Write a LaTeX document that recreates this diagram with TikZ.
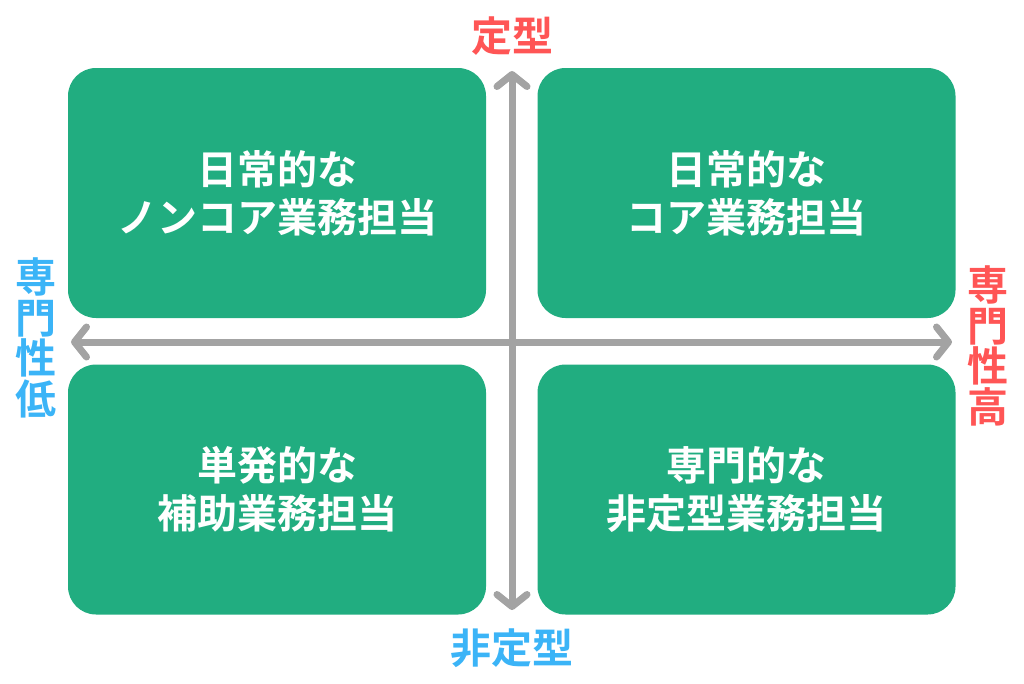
\documentclass[tikz,border=0pt]{standalone}
\usepackage{fontspec}
\newfontfamily\cjk{Noto Sans CJK JP}[BoldFont={Noto Sans CJK JP Bold}]
\usetikzlibrary{arrows.meta}
\definecolor{boxgreen}{RGB}{33,173,128}
\definecolor{axisgray}{RGB}{163,163,163}
\definecolor{lblred}{RGB}{255,85,85}
\definecolor{lblblue}{RGB}{59,180,247}
\tikzset{
  quad/.style={fill=boxgreen, rounded corners=28pt, minimum width=418pt, minimum height=250pt, inner sep=0pt, draw=none,
    text=white, font=\cjk\bfseries\fontsize{40}{48}\selectfont, align=center},
  axis/.style={draw=axisgray, line width=7pt, line cap=round,
    {Straight Barb[length=12pt,width=30pt,line cap=round,line join=round]}-{Straight Barb[length=12pt,width=30pt,line cap=round,line join=round]}},
  lbl/.style={font=\cjk\bfseries\fontsize{41}{40.5}\selectfont, inner sep=0pt, align=center}
}
\begin{document}
\begin{tikzpicture}[x=1pt,y=-1pt]
\useasboundingbox (0,0) rectangle (1024,683);
\node[quad] (tl) at (277,193) {日常的な\\ノンコア業務担当};
\node[quad] (tr) at (746.5,193) {日常的な\\コア業務担当};
\node[quad] (bl) at (277,489.5) {単発的な\\補助業務担当};
\node[quad] (br) at (746.5,489.5) {専門的な\\非定型業務担当};
\coordinate (vt) at (512,71);
\coordinate (vb) at (512,610);
\coordinate (hl) at (71,342);
\coordinate (hr) at (952,342);
\draw[axis] (vt) -- (vb);
\draw[axis] (hl) -- (hr);
\node[lbl, text=lblred] (top) at (512,36) {定型};
\node[lbl, text=lblblue] (bottom) at (512,648) {非定型};
\node[lbl, text=lblblue] (left) at (36,338) {専\\門\\性\\低};
\node[lbl, text=lblred] (right) at (988,346) {専\\門\\性\\高};
\end{tikzpicture}
\end{document}
